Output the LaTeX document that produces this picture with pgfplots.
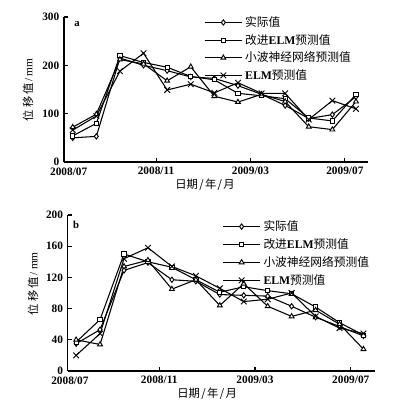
\documentclass[border=0pt]{standalone}
\usepackage{fontspec}
\setmainfont{Liberation Serif}
\newfontfamily\cjk{Noto Sans CJK SC}
\usepackage{pgfplots}
\pgfplotsset{compat=1.18}

\pgfplotstableread{
x    act  imp  wav  elm
0.47 50   54   72   66
1.47 53   80   99   95
2.47 215  220  212  188
3.47 200  206  203  225
4.47 189  196  168  149
5.47 176  177  197  161
6.47 173  170  136  143
7.47 158  142  124  164
8.47 140  137  140  142
9.47 117  131  125  142
10.47 90  91   73   88
11.47 98  85   67   127
12.47 135 140  125  110
}\dataA

\pgfplotstableread{
x    act  imp  wav  elm
0.53 35   37   40   20
1.53 53   66   34   48
2.53 129  150  134  144
3.53 139  140  142  158
4.53 117  133  105  134
5.53 115  117  117  122
6.53 98   101  84   106
7.53 97   108  112  89
8.53 96   103  83   92
9.53 83   99   70   100
10.53 69  82   78   70
11.53 57  62   60   55
12.53 45  46   28   48
}\dataB

\newcommand{\ylab}{\mbox{{\cjk 位\kern1.5pt 移\kern1.5pt 值}\kern1.5pt/\kern1.5pt mm}}
\newcommand{\xlab}{\mbox{\cjk 日期\kern1pt/\kern1pt 年\kern1pt/\kern1pt 月}}
\newcommand{\lA}{\mbox{\cjk 实际值}}
\newcommand{\lB}{\mbox{{\cjk 改进}\textbf{ELM}{\cjk 预测值}}}
\newcommand{\lC}{\mbox{\cjk 小波神经网络预测值}}
\newcommand{\lD}{\mbox{\textbf{ELM}{\cjk 预测值}}}

\pgfplotsset{
 common/.style={
  scale only axis,
  axis x line=bottom, axis y line=left,
  axis line style={-, line width=0.8pt},
  tick align=inside, major tick length=3pt,
  tick style={line width=0.8pt, black},
  tick label style={font=\bfseries\fontsize{8.5}{10}\selectfont},
  xticklabel style={yshift=-0.5pt},
  /pgf/number format/assume math mode=true,
  xtick={4,8,12}, xticklabels={2008/11,2009/03,2009/07},
  extra x tick labels={2008/07},
  extra x tick style={major tick length=0pt, xticklabel style={yshift=-0.5pt}},
  legend style={draw=none, fill=none, font=\fontsize{8.8}{10}\selectfont, cells={anchor=west}},
  legend image code/.code={\draw[mark repeat=2,mark phase=2,##1] plot coordinates {(0pt,0pt) (14pt,0pt) (28pt,0pt)};},
  every axis plot/.append style={black, line width=0.8pt},
  label style={font=\fontsize{8.5}{10}\selectfont},
 },
 sact/.style={mark=diamond*, mark size=2pt, mark options={fill=white, line width=0.7pt}},
 simp/.style={mark=square*, mark size=1.6pt, mark options={fill=white, line width=0.7pt}},
 swav/.style={mark=triangle*, mark size=2.1pt, mark options={fill=white, line width=0.7pt}},
 selm/.style={mark=x, mark size=3pt, mark options={line width=0.7pt}},
}

\begin{document}
\begin{tikzpicture}
\useasboundingbox (0,0) rectangle (297.75pt,305.25pt);
% top
\begin{axis}[common,
  at={(48pt,183.75pt)}, anchor=south west,
  width=228pt, height=108.75pt,
  xmin=0.1, xmax=12.98, ymin=0, ymax=300,
  ytick={0,100,200,300},
  extra x ticks={0.3},
  ylabel={\ylab},
  ylabel style={at={(axis description cs:-0.118,0.497)}, anchor=center},
  xlabel={\xlab},
  xlabel style={at={(axis description cs:0.464,-0.16)}, anchor=center},
  legend style={at={(axis description cs:0.447,1.042)}, anchor=north west, row sep=0.3pt},
]
\addplot[sact] table[x=x,y=act]{\dataA};
\addlegendentry{\lA}
\addplot[simp] table[x=x,y=imp]{\dataA};
\addlegendentry{\lB}
\addplot[swav] table[x=x,y=wav]{\dataA};
\addlegendentry{\lC}
\addplot[selm] table[x=x,y=elm]{\dataA};
\addlegendentry{\lD}
\node[font=\bfseries\fontsize{8}{9}\selectfont] at (axis description cs:0.043,0.95) {a};
\end{axis}
% bottom
\begin{axis}[common,
  at={(50.8pt,27pt)}, anchor=south west,
  width=230.25pt, height=117pt,
  xmin=0.18, xmax=13.0, ymin=0, ymax=200,
  ytick={0,40,80,120,160,200},
  extra x ticks={0.27},
  ylabel={\ylab},
  ylabel style={at={(axis description cs:-0.113,0.56)}, anchor=center},
  xlabel={\xlab},
  xlabel style={at={(axis description cs:0.454,-0.143)}, anchor=center},
  legend style={at={(axis description cs:0.49,1.0)}, anchor=north west, row sep=0.5pt},
]
\addplot[sact] table[x=x,y=act]{\dataB};
\addlegendentry{\lA}
\addplot[simp] table[x=x,y=imp]{\dataB};
\addlegendentry{\lB}
\addplot[swav] table[x=x,y=wav]{\dataB};
\addlegendentry{\lC}
\addplot[selm] table[x=x,y=elm]{\dataB};
\addlegendentry{\lD}
\node[font=\bfseries\fontsize{8}{9}\selectfont] at (axis description cs:0.027,0.94) {b};
\end{axis}
\end{tikzpicture}
\end{document}
